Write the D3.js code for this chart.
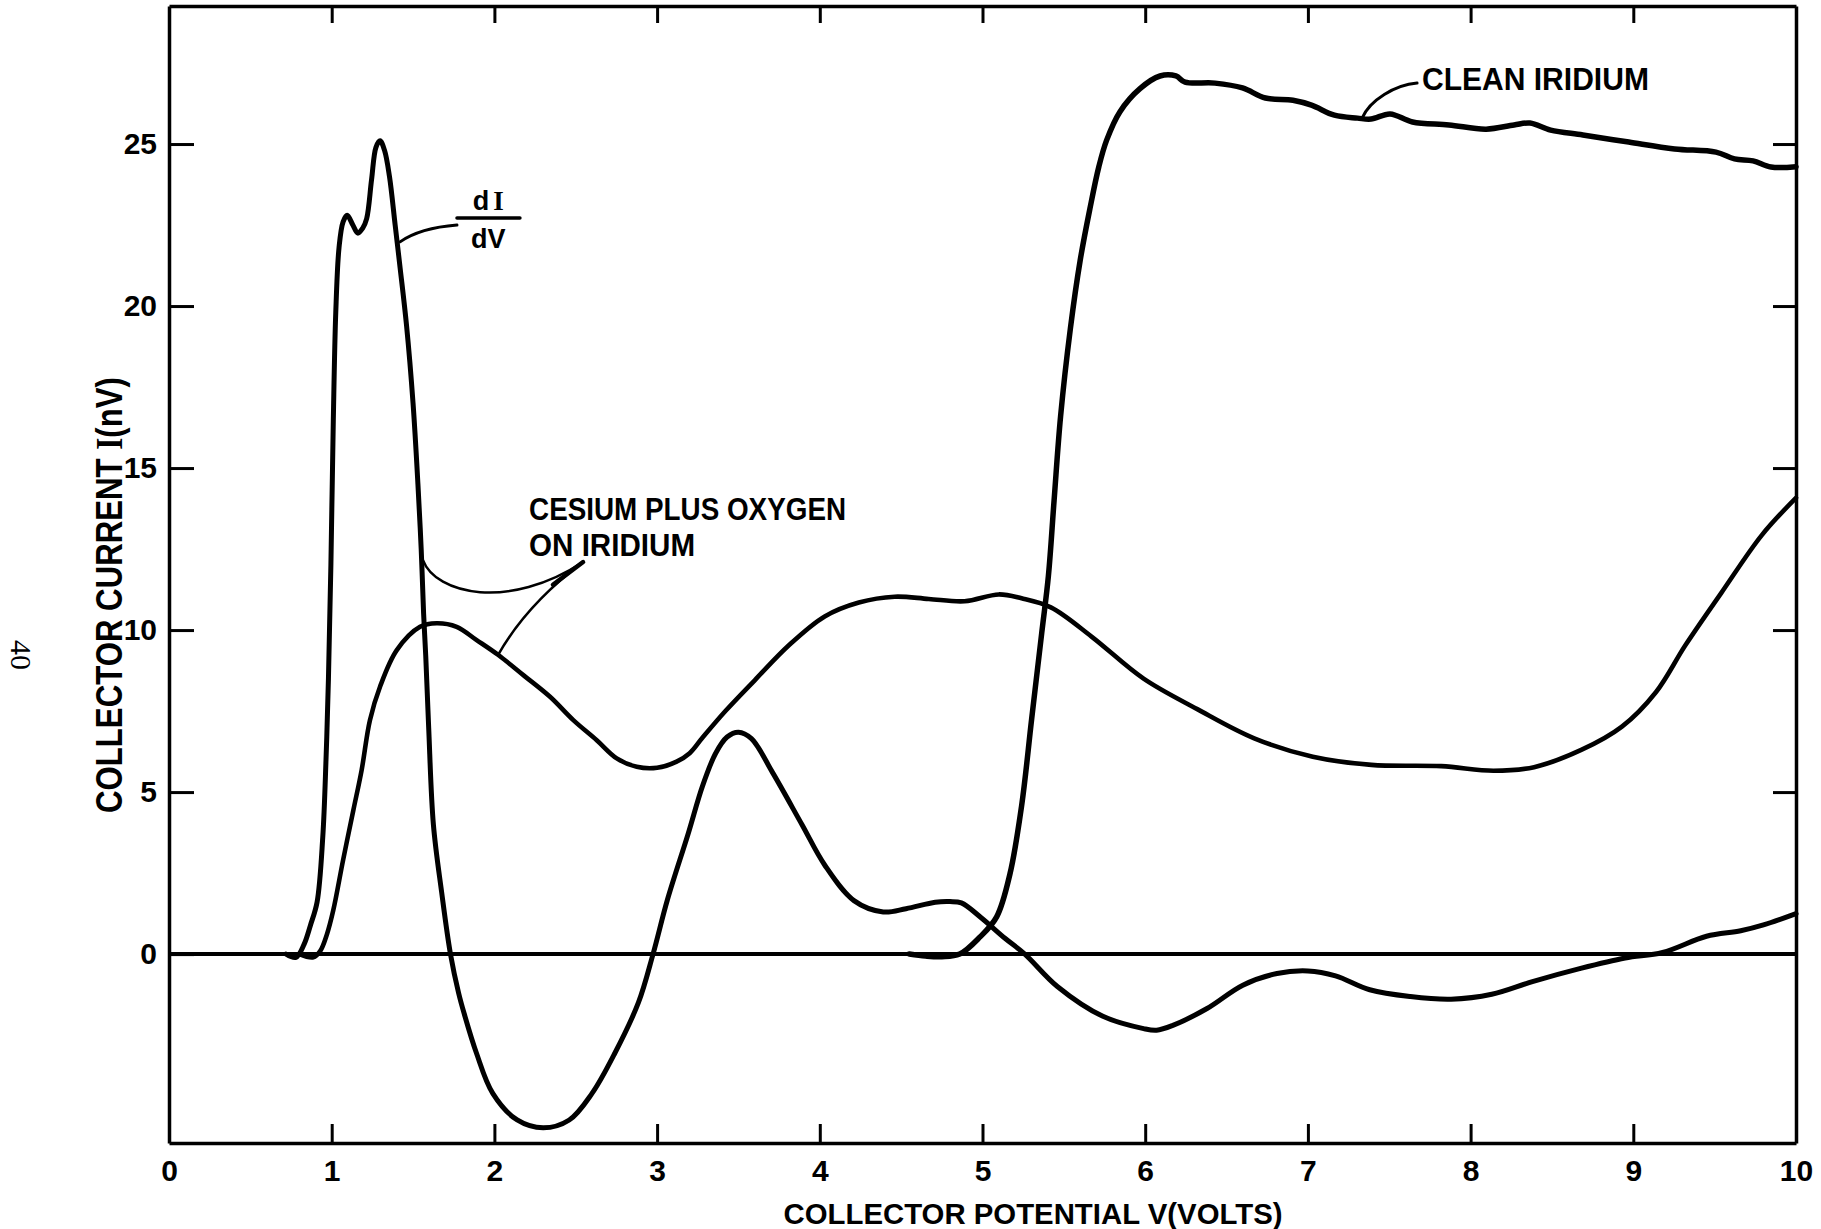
<!DOCTYPE html>
<html>
<head>
<meta charset="utf-8">
<script src="https://cdn.jsdelivr.net/npm/d3@7"></script>
<style>
  body { margin: 0; background: #fff; }
  text { font-family: "Liberation Sans", Arial, sans-serif; fill: #000; }
</style>
</head>
<body>
<svg width="1821" height="1229"></svg>
<script>
const svg = d3.select('svg');

// cesium plus oxygen on iridium, dI/dV trace (the tall spike)
const didvVolts = [0.72, 0.78, 0.83, 0.87, 0.91, 0.945, 0.965, 0.98, 0.995, 1.01, 1.025, 1.045, 1.07, 1.095, 1.13, 1.16,
  1.19, 1.215, 1.245, 1.272, 1.297, 1.325, 1.355, 1.39, 1.42, 1.46, 1.50, 1.53, 1.55, 1.565, 1.578, 1.596, 1.625,
  1.676, 1.73, 1.78, 1.815, 1.89, 1.99, 2.14, 2.30, 2.46, 2.60, 2.74, 2.885, 2.975, 3.063, 3.19, 3.28, 3.36, 3.43,
  3.50, 3.58, 3.71, 3.89, 4.03, 4.21, 4.39, 4.53, 4.71, 4.80, 4.87, 4.99, 5.14, 5.26, 5.46, 5.74, 5.99, 6.07, 6.17,
  6.38, 6.60, 6.81, 7.0, 7.17, 7.38, 7.63, 7.88, 8.13, 8.38, 8.67, 8.95, 9.18, 9.45, 9.66, 9.80, 10.0];
const didvValues = [0, -0.1, 0.3, 0.9, 1.6, 3.6, 6.0, 8.5, 12.0, 16.5, 19.8, 21.8, 22.6, 22.8, 22.5, 22.25,
  22.4, 22.7, 23.9, 24.9, 25.1, 24.8, 24.0, 22.5, 21.2, 19.4, 17.0, 14.5, 12.5, 10.5, 9.2, 7.0, 4.0,
  1.9, 0, -1.2, -1.85, -3.06, -4.3, -5.12, -5.36, -5.12, -4.3, -3.06, -1.5, 0, 1.67, 3.7, 5.2, 6.2, 6.7,
  6.85, 6.65, 5.6, 4.0, 2.75, 1.65, 1.3, 1.4, 1.6, 1.62, 1.58, 1.13, 0.48, 0, -1.0, -1.92, -2.3, -2.35, -2.2,
  -1.68, -0.96, -0.6, -0.52, -0.67, -1.1, -1.31, -1.39, -1.24, -0.85, -0.45, -0.12, 0.05, 0.55, 0.72, 0.9, 1.25];

// cesium plus oxygen on iridium, current trace
const csoVolts = [0.80, 0.887, 0.93, 0.97, 1.01, 1.07, 1.133, 1.184, 1.235, 1.297, 1.40, 1.543, 1.645, 1.768, 1.891,
  2.024, 2.178, 2.342, 2.485, 2.629, 2.752, 2.875, 3.0, 3.12, 3.20, 3.276, 3.42, 3.6, 3.81, 4.03, 4.24, 4.46,
  4.67, 4.89, 5.10, 5.24, 5.42, 5.67, 5.99, 6.32, 6.67, 7.03, 7.39, 7.82, 8.14, 8.39, 8.68, 8.93, 9.14, 9.32,
  9.54, 9.79, 10.0];
const csoCurrent = [0, -0.1, 0.1, 0.6, 1.36, 2.9, 4.44, 5.68, 7.22, 8.25, 9.38, 10.1, 10.21, 10.1, 9.69,
  9.23, 8.61, 7.94, 7.22, 6.6, 6.04, 5.78, 5.75, 5.94, 6.2, 6.66, 7.5, 8.45, 9.53, 10.42, 10.85, 11.03,
  10.96, 10.89, 11.1, 10.98, 10.7, 9.8, 8.5, 7.56, 6.66, 6.09, 5.84, 5.8, 5.66, 5.77, 6.3, 7.02, 8.09, 9.53,
  11.14, 12.93, 14.08];

// clean iridium, current trace
const cleanVolts = [4.55, 4.65, 4.75, 4.86, 4.985, 5.087, 5.169, 5.241, 5.302, 5.364, 5.405, 5.44, 5.48, 5.54,
  5.60, 5.66, 5.715, 5.763, 5.845, 5.968, 6.091, 6.189, 6.245, 6.429, 6.598, 6.739, 6.908, 7.022, 7.163, 7.305,
  7.388, 7.505, 7.643, 7.867, 8.095, 8.267, 8.365, 8.492, 8.69, 8.972, 9.254, 9.508, 9.622, 9.736, 9.846, 10.0];
const cleanCurrent = [0, -0.06, -0.08, 0.0, 0.53, 1.15, 2.48, 4.6, 7.25, 9.91, 11.67, 14.0, 16.6, 19.3,
  21.4, 23.0, 24.3, 25.12, 26.0, 26.71, 27.1, 27.1, 26.91, 26.88, 26.73, 26.42, 26.35, 26.2, 25.89, 25.8,
  25.77, 25.93, 25.68, 25.59, 25.46, 25.59, 25.65, 25.43, 25.28, 25.06, 24.85, 24.75, 24.54, 24.48, 24.29, 24.3];

const xTicks = [0, 1, 2, 3, 4, 5, 6, 7, 8, 9, 10];
const yTicks = [0, 5, 10, 15, 20, 25];

const x = d3.scaleLinear().domain([0, 10]).range([169, 1796]);
const y = d3.scaleLinear().domain([-5.83, 29.26]).range([1143, 6]);

const line = d3.line()
    .x(d => x(d[0]))
    .y(d => y(d[1]))
    .curve(d3.curveCatmullRom.alpha(0.5));

// axes: ticks point inward on all four sides
const tickFont = sel => sel.selectAll('text')
    .style('font-size', '30px').style('font-weight', 'bold')
    .style('font-family', '"Liberation Sans", Arial, sans-serif');

svg.append('g')
    .attr('transform', `translate(0,${y.range()[0]})`)
    .call(d3.axisBottom(x).tickValues(xTicks).tickSize(-19).tickSizeOuter(0).tickPadding(17).tickFormat(d3.format('d')))
    .call(tickFont);

svg.append('g')
    .attr('transform', `translate(${x.range()[0]},0)`)
    .call(d3.axisLeft(y).tickValues(yTicks).tickSize(-25).tickSizeOuter(0).tickPadding(12).tickFormat(d3.format('d')))
    .call(tickFont);

svg.append('g')
    .attr('transform', `translate(0,${y.range()[1]})`)
    .call(d3.axisTop(x).tickValues(xTicks.slice(1, -1)).tickSize(-17).tickSizeOuter(0).tickFormat(''));

svg.append('g')
    .attr('transform', `translate(${x.range()[1]},0)`)
    .call(d3.axisRight(y).tickValues(yTicks.slice(1)).tickSize(-23).tickSizeOuter(0).tickFormat(''));

svg.selectAll('.domain').attr('stroke-width', 3.5);
svg.selectAll('.tick line').attr('stroke-width', 3);

// zero line
svg.append('line')
    .attr('x1', x(0)).attr('x2', x(10))
    .attr('y1', y(0)).attr('y2', y(0))
    .attr('stroke', '#000').attr('stroke-width', 4);

// curves
const series = [
  { pts: d3.zip(csoVolts, csoCurrent), w: 4.6 },
  { pts: d3.zip(didvVolts, didvValues), w: 5 },
  { pts: d3.zip(cleanVolts, cleanCurrent), w: 5.5 }
];
svg.append('g').selectAll('path').data(series).enter().append('path')
    .attr('d', d => line(d.pts))
    .attr('fill', 'none')
    .attr('stroke', '#000')
    .attr('stroke-width', d => d.w)
    .attr('stroke-linejoin', 'round')
    .attr('stroke-linecap', 'round');

// annotations
const P = (vx, vy) => `${x(vx)},${y(vy)}`;
const ann = svg.append('g').attr('fill', 'none').attr('stroke', '#000').attr('stroke-linecap', 'round');

// dI/dV leader and fraction bar
ann.append('path').attr('d', `M${P(1.42, 21.98)} Q${P(1.543, 22.41)} ${P(1.77, 22.5)}`).attr('stroke-width', 3);
ann.append('line')
    .attr('x1', x(1.77)).attr('x2', x(2.157))
    .attr('y1', y(22.72)).attr('y2', y(22.72))
    .attr('stroke-width', 3.5);

// clean iridium leader
ann.append('path').attr('d', `M${P(7.671, 26.88)} C${P(7.535, 26.82)} ${P(7.382, 26.36)} ${P(7.333, 25.8)}`)
    .attr('stroke-width', 3);

// cesium plus oxygen leaders (to both traces)
ann.append('path').attr('d', `M${P(1.561, 12.16)} C${P(1.64, 11.1)} ${P(2.09, 10.6)} ${P(2.545, 12.1)}`)
    .attr('stroke-width', 2.5);
ann.append('path').attr('d', `M${P(2.022, 9.23)} Q${P(2.2, 10.8)} ${P(2.545, 12.1)}`)
    .attr('stroke-width', 2.5);
ann.append('path').attr('d', `M${P(2.36, 11.4)} L${P(2.545, 12.1)}`)
    .attr('stroke-width', 4.5);

const label = (vx, vy, str, size, len, anchor) => {
  const t = svg.append('text')
      .attr('x', x(vx)).attr('y', y(vy))
      .attr('text-anchor', anchor || 'start')
      .style('font-size', size + 'px')
      .style('font-weight', 'bold')
      .text(str);
  if (len) t.attr('textLength', len).attr('lengthAdjust', 'spacingAndGlyphs');
  return t;
};

label(7.701, 26.67, 'CLEAN IRIDIUM', 31, 227);
label(2.213, 13.4, 'CESIUM PLUS OXYGEN', 31, 317);
label(2.213, 12.28, 'ON IRIDIUM', 31, 166);

// dI over dV
const dI = svg.append('text').attr('x', x(1.963)).attr('y', y(22.96))
    .attr('text-anchor', 'middle').style('font-size', '27px').style('font-weight', 'bold');
dI.append('tspan').text('d');
dI.append('tspan').style('font-family', '"Liberation Serif", serif').attr('dx', 4).text('I');
label(1.963, 21.79, 'dV', 27, null, 'middle');

// axis titles
svg.append('text')
    .attr('x', 1033).attr('y', 1224)
    .attr('text-anchor', 'middle')
    .attr('textLength', 499).attr('lengthAdjust', 'spacingAndGlyphs')
    .style('font-size', '29px').style('font-weight', 'bold')
    .text('COLLECTOR POTENTIAL V(VOLTS)');

const yTitle = svg.append('text')
    .attr('transform', 'translate(122,595) rotate(-90)')
    .attr('text-anchor', 'middle')
    .attr('textLength', 436).attr('lengthAdjust', 'spacingAndGlyphs')
    .style('font-size', '37px').style('font-weight', 'bold');
yTitle.append('tspan').text('COLLECTOR  CURRENT  ');
yTitle.append('tspan').style('font-family', '"Liberation Serif", serif').text('I');
yTitle.append('tspan').text('(nV)');

// page number
svg.append('text')
    .attr('transform', 'translate(21,655) rotate(90)')
    .attr('text-anchor', 'middle')
    .attr('dy', '0.35em')
    .style('font-family', '"Liberation Serif", serif')
    .style('font-size', '30px')
    .text('40');
</script>
</body>
</html>
